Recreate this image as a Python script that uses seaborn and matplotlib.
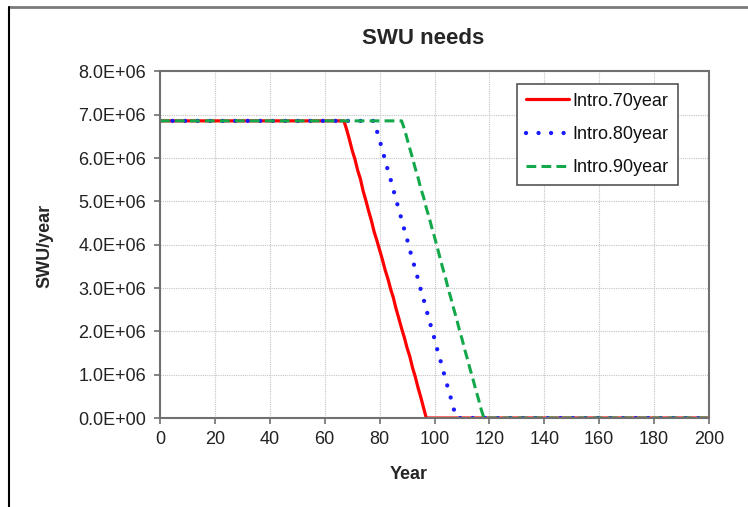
import pandas as pd
import matplotlib.pyplot as plt
import seaborn as sns
from matplotlib.lines import Line2D
from matplotlib.ticker import FuncFormatter, MultipleLocator

# SWU needs per year, in millions
flat_level = 6.86
end_year = 200

red_years = list(range(67, 98))
red_vals = [6.86, 6.66, 6.43, 6.18, 5.98, 5.72, 5.52, 5.24, 5.02, 4.78, 4.56,
            4.30, 4.10, 3.88, 3.66, 3.42, 3.22, 2.98, 2.78, 2.52, 2.30, 2.07,
            1.86, 1.62, 1.42, 1.16, 0.95, 0.70, 0.48, 0.24, 0.00]

blue_years = list(range(78, 109))
blue_vals = [6.86, 6.63, 6.42, 6.18, 5.96, 5.72, 5.51, 5.27, 5.05, 4.80, 4.59,
             4.35, 4.13, 3.88, 3.67, 3.42, 3.21, 2.96, 2.75, 2.50, 2.29, 2.04,
             1.83, 1.58, 1.37, 1.12, 0.91, 0.66, 0.45, 0.21, 0.00]

green_years = list(range(88, 119))
green_vals = [6.86, 6.68, 6.45, 6.22, 6.00, 5.76, 5.55, 5.30, 5.10, 4.85, 4.64,
              4.40, 4.18, 3.94, 3.70, 3.46, 3.24, 2.98, 2.76, 2.52, 2.30, 2.05,
              1.83, 1.58, 1.36, 1.12, 0.90, 0.66, 0.44, 0.20, 0.00]

labels = ["Intro.70year", "Intro.80year", "Intro.90year"]


def build(years, vals):
    x = [0] + years + [end_year]
    y = [flat_level] + vals + [0.0]
    return pd.DataFrame({"year": x, "swu": [v * 1e6 for v in y]})


sns.set_style("white")
plt.rcParams["font.family"] = ["Liberation Sans", "DejaVu Sans"]

fig = plt.figure(figsize=(7.48, 5.07), dpi=100)
ax = fig.add_axes([0.2139, 0.1755, 0.7340, 0.6835])

sns.lineplot(data=build(red_years, red_vals), x="year", y="swu", ax=ax,
             estimator=None, color="#ff0000", lw=2.3, label=labels[0])
sns.lineplot(data=build(blue_years, blue_vals), x="year", y="swu", ax=ax,
             estimator=None, color="#1a1aff", lw=3.1, linestyle=(0, (0.01, 2.9)),
             dash_capstyle="round", label=labels[1])
sns.lineplot(data=build(green_years, green_vals), x="year", y="swu", ax=ax,
             estimator=None, color="#13a84a", lw=2.2, linestyle=(0, (3.2, 1.7)),
             label=labels[2])

ax.set_xlim(0, 200)
ax.set_ylim(0, 8e6)
ax.xaxis.set_major_locator(MultipleLocator(20))
ax.yaxis.set_major_locator(MultipleLocator(1e6))
ax.yaxis.set_major_formatter(FuncFormatter(lambda v, p: f"{v:.1E}"))
ax.set_xlabel("")
ax.set_ylabel("")
ax.grid(True, color="#c4c4c4", lw=0.8, linestyle=(0, (1, 1)))
ax.set_axisbelow(True)
for sp in ax.spines.values():
    sp.set_color("#707070")
    sp.set_linewidth(1.5)
ax.tick_params(axis="both", direction="out", length=4, width=1.2,
               color="#707070", labelsize=13, labelcolor="#222222",
               left=True, bottom=True)
ax.tick_params(axis="y", pad=6)
ax.tick_params(axis="x", pad=5)

leg = ax.legend(loc="upper right", bbox_to_anchor=(0.943, 0.965),
                borderaxespad=0, fontsize=13, frameon=True, fancybox=False,
                framealpha=1, edgecolor="#555555", handlelength=2.4,
                handletextpad=0.2, labelspacing=0.9, borderpad=0.5)
leg.get_frame().set_linewidth(1.2)
for t in leg.get_texts():
    t.set_color("#111111")

fig.text(0.5655, 0.925, "SWU needs", ha="center", va="center",
         fontsize=16, fontweight="bold")
fig.text(0.547, 0.065, "Year", ha="center", va="center",
         fontsize=13, fontweight="bold")
fig.text(0.060, 0.515, "SWU/year", ha="center", va="center", rotation=90,
         fontsize=13, fontweight="bold")

# outer frame of the original picture
fig.add_artist(Line2D([0.012, 1.0], [0.987, 0.987], color="#7a7a7a", lw=2))
fig.add_artist(Line2D([0.012, 0.012], [0.0, 0.987], color="#000000", lw=1.5))

fig.savefig("out.png", dpi=100)
